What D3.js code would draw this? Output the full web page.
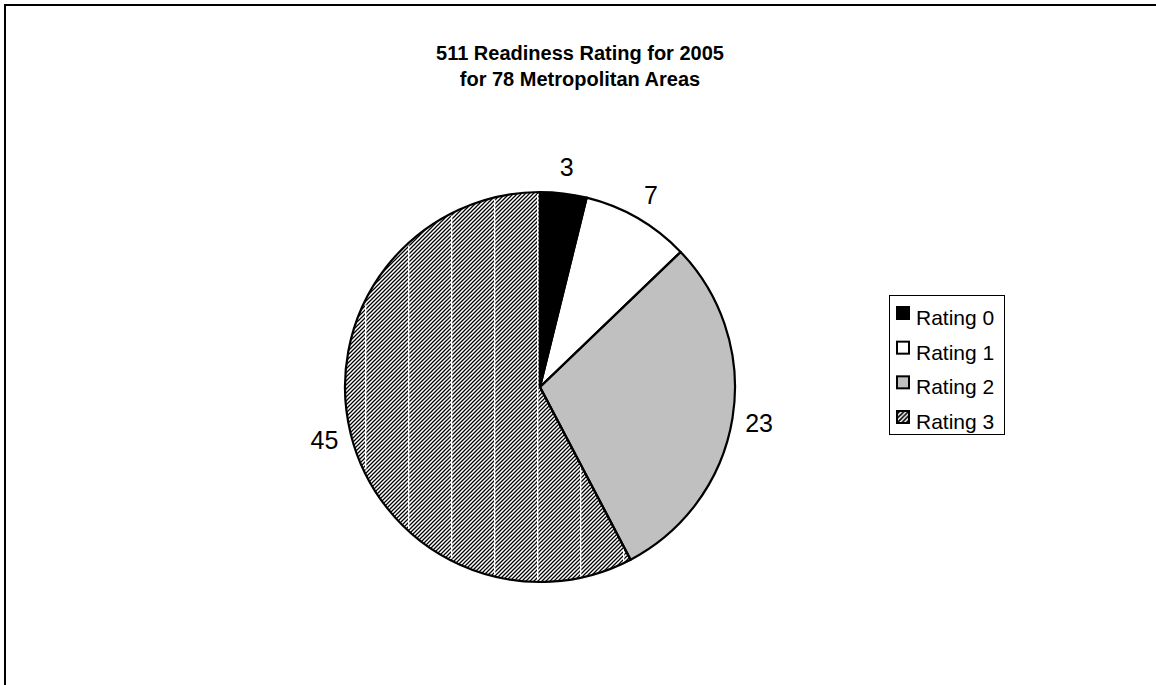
<!DOCTYPE html>
<html>
<head>
<meta charset="utf-8">
<script src="https://cdn.jsdelivr.net/npm/d3@7"></script>
<style>
  html, body { margin: 0; padding: 0; background: #ffffff; }
  svg { display: block; }
  text { font-family: "Liberation Sans", Arial, Helvetica, sans-serif; fill: #000; }
</style>
</head>
<body>
<svg id="chart" width="1156" height="685"></svg>
<script>
// Metro areas by 511 readiness rating, 2005
const categories = ["Rating 0", "Rating 1", "Rating 2", "Rating 3"];
const values = [3, 7, 23, 45];
const titleLines = ["511 Readiness Rating for 2005", "for 78 Metropolitan Areas"];

const svg = d3.select("#chart");

// pattern definitions
const defs = svg.append("defs");

// fine diagonal hatch for the large slice
const hatch = defs.append("pattern")
  .attr("id", "hatch")
  .attr("patternUnits", "userSpaceOnUse")
  .attr("width", 4).attr("height", 4);
hatch.append("rect").attr("width", 4).attr("height", 4).attr("fill", "#fff");
hatch.append("path")
  .attr("d", "M-1,1 L1,-1 M0,4 L4,0 M3,5 L5,3")
  .attr("stroke", "#000").attr("stroke-width", 1.25);

// thin white tile seams that run through the hatched fill
const seams = defs.append("pattern")
  .attr("id", "seams")
  .attr("patternUnits", "userSpaceOnUse")
  .attr("x", 40).attr("y", 0)
  .attr("width", 43).attr("height", 2000);
seams.append("rect").attr("x", 0).attr("y", 0)
  .attr("width", 1.3).attr("height", 2000).attr("fill", "#fff");

// coarser hatch for the legend key
const hatchKey = defs.append("pattern")
  .attr("id", "hatchKey")
  .attr("patternUnits", "userSpaceOnUse")
  .attr("width", 4.5).attr("height", 4.5);
hatchKey.append("rect").attr("width", 4.5).attr("height", 4.5).attr("fill", "#fff");
hatchKey.append("path")
  .attr("d", "M-1,1 L1,-1 M0,4.5 L4.5,0 M3.5,5.5 L5.5,3.5")
  .attr("stroke", "#000").attr("stroke-width", 1.7);

const fill = d3.scaleOrdinal()
  .domain(categories)
  .range(["#000000", "#ffffff", "#c0c0c0", "url(#hatch)"]);
const keyFill = d3.scaleOrdinal()
  .domain(categories)
  .range(["#000000", "#ffffff", "#c0c0c0", "url(#hatchKey)"]);

// chart frame (runs off the right and bottom edges)
svg.append("rect")
  .attr("x", 5).attr("y", 5)
  .attr("width", 1300).attr("height", 900)
  .attr("fill", "none").attr("stroke", "#000").attr("stroke-width", 2);

// title
svg.append("g")
  .selectAll("text")
  .data(titleLines)
  .join("text")
  .attr("x", 580)
  .attr("y", (d, i) => 60 + i * 26)
  .attr("text-anchor", "middle")
  .attr("font-size", 20)
  .attr("font-weight", "bold")
  .text(d => d);

// pie
const cx = 540, cy = 387, R = 195, labelR = 222;
const data = categories.map((c, i) => ({ category: c, value: values[i] }));
const pie = d3.pie().sort(null).value(d => d.value);
const arcs = pie(data);
const arc = d3.arc().innerRadius(0).outerRadius(R);
const seamArc = d3.arc().innerRadius(0).outerRadius(R - 2);
const labelArc = d3.arc().innerRadius(labelR).outerRadius(labelR);

const g = svg.append("g").attr("transform", `translate(${cx},${cy})`);

g.selectAll("path.slice")
  .data(arcs)
  .join("path")
  .attr("class", "slice")
  .attr("d", arc)
  .attr("fill", d => fill(d.data.category))
  .attr("stroke", "none");

// seams over the hatched slice (pattern is in page coordinates)
svg.append("g")
  .selectAll("path.seam")
  .data(arcs.filter(d => d.data.category === "Rating 3"))
  .join("path")
  .attr("class", "seam")
  .attr("transform", `translate(${cx},${cy})`)
  .attr("d", seamArc)
  .attr("fill", "url(#seams)");

// slice outlines
svg.append("g")
  .attr("transform", `translate(${cx},${cy})`)
  .selectAll("path.edge")
  .data(arcs)
  .join("path")
  .attr("class", "edge")
  .attr("d", arc)
  .attr("fill", "none")
  .attr("stroke", "#000")
  .attr("stroke-width", 2.2)
  .attr("stroke-linejoin", "round");

// value labels
svg.append("g")
  .attr("transform", `translate(${cx},${cy})`)
  .selectAll("text.value")
  .data(arcs)
  .join("text")
  .attr("class", "value")
  .attr("transform", d => `translate(${labelArc.centroid(d)})`)
  .attr("text-anchor", "middle")
  .attr("dy", "0.36em")
  .attr("font-size", 25)
  .text(d => d.data.value);

// legend
const legend = svg.append("g");
legend.append("rect")
  .attr("x", 889.5).attr("y", 295.5)
  .attr("width", 115).attr("height", 139)
  .attr("fill", "#fff").attr("stroke", "#000").attr("stroke-width", 1);

const rowY = d3.scalePoint().domain(categories).range([325, 429]);

const rows = legend.selectAll("g.row")
  .data(categories)
  .join("g")
  .attr("class", "row")
  .attr("transform", d => `translate(0,${rowY(d)})`);

rows.append("rect")
  .attr("x", 897).attr("y", -18)
  .attr("width", 12).attr("height", 12)
  .attr("fill", d => keyFill(d))
  .attr("stroke", "#000").attr("stroke-width", 2);

rows.append("text")
  .attr("x", 916).attr("y", 0)
  .attr("font-size", 21)
  .text(d => d);
</script>
</body>
</html>
